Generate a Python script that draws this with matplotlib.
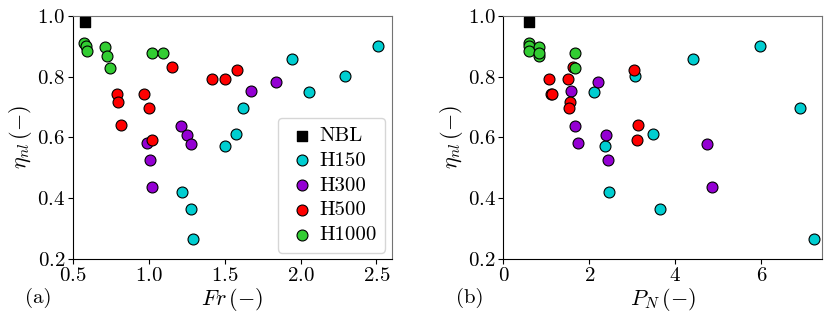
import matplotlib
matplotlib.use('Agg')
import matplotlib.pyplot as plt

plt.rcParams['font.family'] = 'serif'
plt.rcParams['font.serif'] = ['cmr10', 'DejaVu Serif']
plt.rcParams['mathtext.fontset'] = 'cm'
plt.rcParams['axes.formatter.use_mathtext'] = True
plt.rcParams['font.size'] = 15

# ---- data ----
groups = ['H150', 'H300', 'H500', 'H1000']
colors = ['darkturquoise', 'darkviolet', 'red', 'limegreen']

nbl_fr = [0.58]
nbl_pn = [0.587]
nbl_eta = [0.978]

fr_h150 = [2.509, 1.944, 2.29, 2.059, 1.618, 1.577, 1.503, 1.218, 1.276, 1.294]
pn_h150 = [5.97, 4.40, 3.05, 2.11, 6.90, 3.47, 2.37, 2.45, 3.65, 7.21]
eta_h150 = [0.902, 0.857, 0.803, 0.748, 0.698, 0.610, 0.573, 0.419, 0.365, 0.267]

fr_h300 = [0.986, 1.008, 1.023, 1.214, 1.255, 1.278, 1.676, 1.84]
pn_h300 = [1.73, 2.43, 4.84, 1.667, 2.39, 4.74, 1.574, 2.21]
eta_h300 = [0.582, 0.526, 0.437, 0.638, 0.607, 0.578, 0.753, 0.781]

fr_h500 = [0.792, 0.798, 0.818, 0.967, 1.0, 1.025, 1.153, 1.415, 1.5, 1.581]
pn_h500 = [1.10, 1.55, 3.12, 1.13, 1.535, 3.10, 1.628, 1.062, 1.496, 3.04]
eta_h500 = [0.743, 0.715, 0.639, 0.741, 0.697, 0.592, 0.833, 0.793, 0.793, 0.821]

fr_h1000 = [0.573, 0.586, 0.597, 0.71, 0.729, 0.746, 1.025, 1.094]
pn_h1000 = [0.587, 0.587, 0.587, 0.835, 0.835, 1.67, 0.835, 1.67]
eta_h1000 = [0.909, 0.90, 0.885, 0.896, 0.868, 0.827, 0.879, 0.879]

fr_all = [fr_h150, fr_h300, fr_h500, fr_h1000]
pn_all = [pn_h150, pn_h300, pn_h500, pn_h1000]
eta_all = [eta_h150, eta_h300, eta_h500, eta_h1000]

fig = plt.figure(figsize=(8.31, 3.22), dpi=100)
ax1 = fig.add_axes([0.0875, 0.196, 0.3838, 0.755])
ax2 = fig.add_axes([0.6057, 0.196, 0.3831, 0.755])


def draw_panel(ax, xs_all, nbl_x):
	ax.scatter(nbl_x, nbl_eta, marker='s', s=60, color='black', label='NBL', zorder=3)
	for xs, ys, c, name in zip(xs_all, eta_all, colors, groups):
		ax.scatter(xs, ys, s=62, color=c, edgecolors='black', linewidths=0.8,
				   label=name, zorder=3)
	ax.set_ylim(0.2, 1.0)
	ax.set_yticks([0.2, 0.4, 0.6, 0.8, 1.0])
	ax.set_ylabel(r'$\eta_{nl}\,(-)$', fontsize=16, labelpad=2)
	ax.tick_params(pad=2)
	for s in ['top', 'right']:
		ax.spines[s].set_color('0.45')


draw_panel(ax1, fr_all, nbl_fr)
ax1.set_xlim(0.5, 2.6)
ax1.set_xticks([0.5, 1.0, 1.5, 2.0, 2.5])
ax1.set_xlabel(r'$Fr\,(-)$', fontsize=16, labelpad=1)
ax1.legend(loc='lower right', handletextpad=0.1, borderpad=0.4, labelspacing=0.3,
		   borderaxespad=0.3, handlelength=1.5)
ax1.text(-0.15, -0.12, '(a)', transform=ax1.transAxes, ha='left', va='top')

draw_panel(ax2, pn_all, nbl_pn)
ax2.set_xlim(0, 7.4)
ax2.set_xticks([0, 2, 4, 6])
ax2.set_xlabel(r'$P_N\,(-)$', fontsize=16, labelpad=1)
ax2.text(-0.15, -0.12, '(b)', transform=ax2.transAxes, ha='left', va='top')

fig.savefig('out.png', dpi=100)
